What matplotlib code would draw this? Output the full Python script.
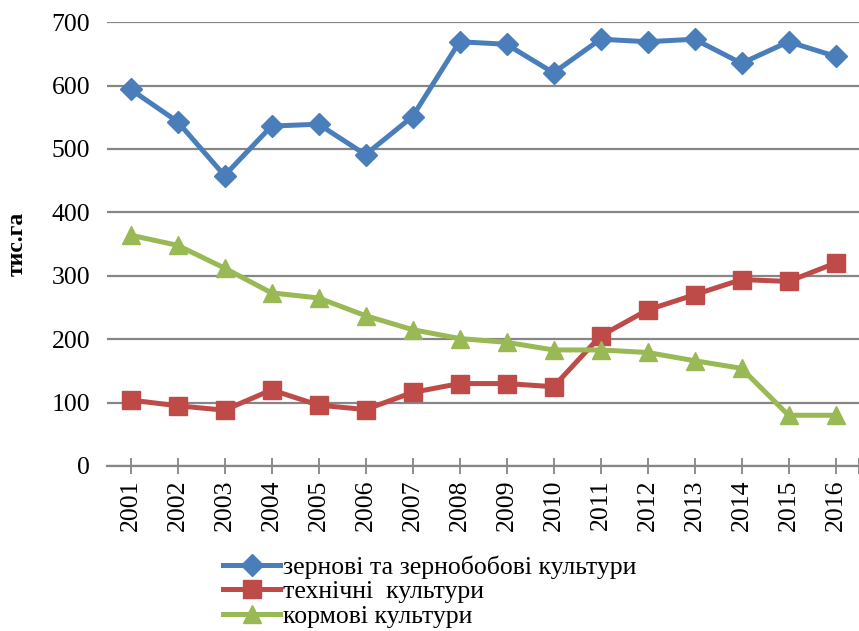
import matplotlib
matplotlib.use("Agg")
import matplotlib.pyplot as plt

years = ["2001", "2002", "2003", "2004", "2005", "2006", "2007", "2008",
         "2009", "2010", "2011", "2012", "2013", "2014", "2015", "2016"]
grain = [594, 543, 458, 536, 539, 491, 551, 669, 665, 620, 673, 669, 673, 635, 669, 646]
technical = [104, 95, 88, 120, 96, 89, 116, 130, 130, 125, 205, 246, 270, 294, 291, 320]
fodder = [364, 348, 312, 273, 265, 237, 215, 201, 195, 183, 183, 179, 166, 154, 80, 80]

labels = ["зернові та зернобобові культури", "технічні  культури", "кормові культури"]
y_ticks = [0, 100, 200, 300, 400, 500, 600, 700]

plt.rcParams['font.family'] = ['Liberation Serif', 'DejaVu Serif']

fig = plt.figure(figsize=(8.59, 6.31), dpi=100)
ax = fig.add_axes([0.1246, 0.2615, 0.8754, 0.7035])

x = list(range(1, len(years) + 1))
ax.plot(x, grain, color='#4A7EBB', lw=3.6, marker='D', ms=11, label=labels[0], zorder=3)
ax.plot(x, technical, color='#BE4B48', lw=3.6, marker='s', ms=12.5, label=labels[1], zorder=3)
ax.plot(x, fodder, color='#98B954', lw=3.6, marker='^', ms=13, label=labels[2], zorder=3)

ax.set_xlim(0.5, len(years) + 0.5)
ax.set_ylim(0, 700)
ax.set_yticks(y_ticks)
ax.set_xticks(x)
ax.set_xticklabels(years, rotation=90, fontsize=18.5)
ax.set_xticks([len(years) + 0.5], minor=True)
ax.tick_params(axis='y', length=0, labelsize=18.5, pad=12)
ax.tick_params(axis='x', which='both', direction='inout', length=12, width=1.3, color='#868686', pad=4)
ax.grid(axis='y', color='#868686', lw=1.6)
ax.set_axisbelow(True)
for s in ['top', 'right', 'left']:
    ax.spines[s].set_visible(False)
ax.spines['bottom'].set_color('#868686')
ax.spines['bottom'].set_linewidth(1.6)

ax.set_ylabel('тис.га', fontsize=17, fontweight='bold')
ax.yaxis.set_label_coords(-0.105, 0.5)

leg = fig.legend(loc='upper left', bbox_to_anchor=(0.245, 0.14), frameon=False,
                 fontsize=18.5, handlelength=2.2, handletextpad=0.12,
                 labelspacing=0.05, borderpad=0)

fig.savefig('out.png', dpi=100)
